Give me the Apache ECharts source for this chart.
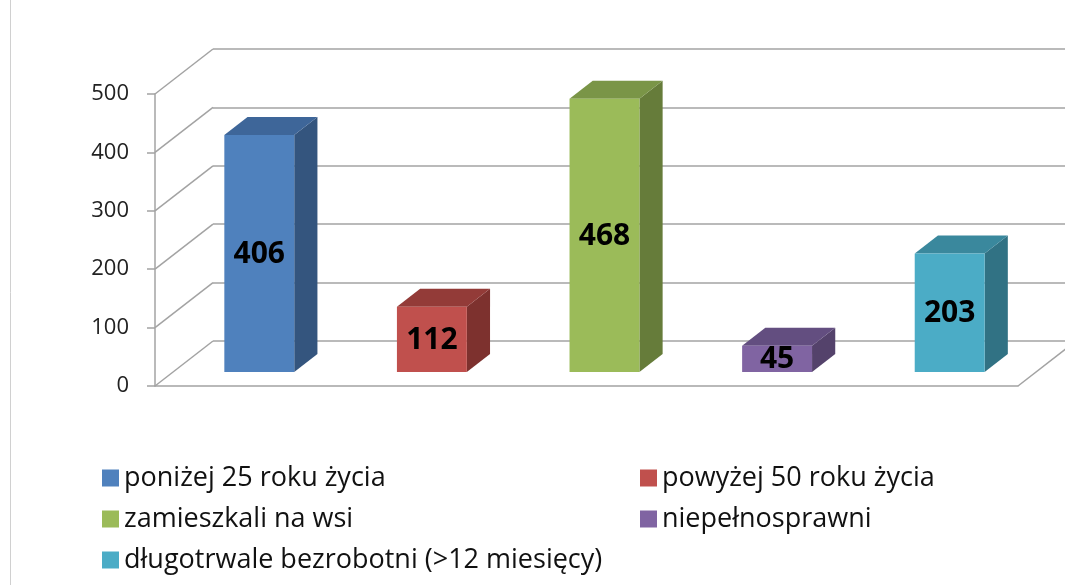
<!DOCTYPE html>
<html>
<head>
<meta charset="utf-8">
<script src="https://cdn.jsdelivr.net/npm/echarts@6/dist/echarts.min.js"></script>
<style>
html,body{margin:0;padding:0;background:#fff}
#main{width:1065px;height:585px}
</style>
</head>
<body>
<div id="main"></div>
<script>
// dane
var categories = ['poniżej 25 roku życia', 'powyżej 50 roku życia', 'zamieszkali na wsi', 'niepełnosprawni', 'długotrwale bezrobotni (>12 miesięcy)'];
var values = [406, 112, 468, 45, 203];
var yTicks = [0, 100, 200, 300, 400, 500];

var frontColors = ['#4F81BD', '#C0504D', '#9BBB59', '#8064A2', '#4BACC6'];
var sideColors = ['#34557E', '#7D312E', '#667C3A', '#54426B', '#317284'];
var topColors = ['#3E6699', '#933B38', '#7A9547', '#634E80', '#3A889D'];

// "3D" - przesuniecie glebi
var DX = 58, DY = 45;
var BAR_FRONT = 0.31, BAR_BACK = 0.71, BAR_WIDTH = 0.405;
var gridLeft = 155, gridTop = 94, gridW = 863, gridH = 292;
var lineColor = '#a3a3a3';

var myChart = echarts.init(document.getElementById('main'));

function barRenderer(i) {
    return function (params, api) {
        var base = api.coord([api.value(0), 0]);
        var top = api.coord([api.value(0), api.value(1)]);
        var w = api.size([1, 0])[0] * BAR_WIDTH;
        var ox = DX * BAR_FRONT, oy = DY * BAR_FRONT;
        var dx = DX * (BAR_BACK - BAR_FRONT), dy = DY * (BAR_BACK - BAR_FRONT);
        var x0 = base[0] - w / 2 + ox, x1 = x0 + w;
        var yb = base[1] - oy, yt = top[1] - oy;
        return {
            type: 'group',
            children: [{
                type: 'polygon',
                shape: {points: [[x1, yb], [x1, yt], [x1 + dx, yt - dy], [x1 + dx, yb - dy]]},
                style: {fill: sideColors[i]}
            }, {
                type: 'polygon',
                shape: {points: [[x0, yt], [x1, yt], [x1 + dx, yt - dy], [x0 + dx, yt - dy]]},
                style: {fill: topColors[i]}
            }, {
                type: 'rect',
                shape: {x: x0, y: yt, width: w, height: yb - yt},
                style: {fill: frontColors[i]}
            }, {
                type: 'text',
                x: x0 + w / 2,
                y: (yt + yb) / 2 + 1,
                style: {
                    text: String(api.value(1)),
                    fontFamily: 'Open Sans',
                    fontWeight: 'bold',
                    fontSize: 30,
                    fill: '#000',
                    align: 'center',
                    verticalAlign: 'middle'
                }
            }]
        };
    };
}

// sciana lewa + prawa krawedz podlogi
function wallRenderer(params, api) {
    var cs = params.coordSys;
    var y = api.coord([0, api.value(1)])[1];
    var kids = [{
        type: 'line',
        shape: {x1: cs.x, y1: y, x2: cs.x + DX, y2: y - DY},
        style: {stroke: lineColor, lineWidth: 1.5}
    }];
    if (api.value(1) === 0) {
        kids.push({
            type: 'line',
            shape: {x1: cs.x + cs.width, y1: y, x2: cs.x + cs.width + DX, y2: y - DY},
            style: {stroke: lineColor, lineWidth: 1.5}
        });
    }
    return {type: 'group', children: kids};
}

var series = [{
    name: 'walls',
    type: 'custom',
    xAxisIndex: 0,
    yAxisIndex: 0,
    silent: true,
    z: 1,
    renderItem: wallRenderer,
    data: yTicks.map(function (v) { return [0, v]; })
}];
categories.forEach(function (name, i) {
    series.push({
        name: name,
        type: 'custom',
        xAxisIndex: 0,
        yAxisIndex: 0,
        color: frontColors[i],
        z: 5,
        renderItem: barRenderer(i),
        data: [[i, values[i]]]
    });
});

var legendText = {fontFamily: 'Open Sans', fontSize: 27, color: '#111', lineHeight: 30};

option = {
    backgroundColor: '#fff',
    animation: false,
    graphic: [{
        type: 'line',
        shape: {x1: 10.5, y1: 0, x2: 10.5, y2: 585},
        style: {stroke: '#d0d0d0', lineWidth: 1}
    }],
    grid: [
        {left: gridLeft, top: gridTop, width: gridW, height: gridH},
        {left: gridLeft + DX, top: gridTop - DY, width: gridW, height: gridH}
    ],
    xAxis: [{
        type: 'category',
        gridIndex: 0,
        data: categories,
        axisLine: {lineStyle: {color: lineColor, width: 1.5}},
        axisTick: {show: false},
        axisLabel: {show: false}
    }, {
        type: 'category',
        gridIndex: 1,
        data: categories,
        show: false
    }],
    yAxis: [{
        type: 'value',
        gridIndex: 0,
        min: 0,
        max: 500,
        interval: 100,
        axisLine: {show: true, lineStyle: {color: lineColor, width: 1.5}},
        axisTick: {show: true, length: 8, lineStyle: {color: lineColor, width: 1.5}},
        axisLabel: {
            margin: 26,
            fontFamily: 'Open Sans',
            fontSize: 22,
            color: '#222',
            padding: [4, 0, 0, 0],
            formatter: function (v) { return yTicks.indexOf(v) >= 0 ? String(v) : ''; }
        },
        splitLine: {show: false}
    }, {
        type: 'value',
        gridIndex: 1,
        min: 0,
        max: 500,
        interval: 100,
        axisLine: {show: false},
        axisTick: {show: false},
        axisLabel: {show: false},
        splitLine: {show: true, lineStyle: {color: lineColor, width: 1.5}}
    }],
    legend: [{
        data: [categories[0], categories[2], categories[4]],
        orient: 'vertical',
        left: 97,
        top: 458,
        icon: 'rect',
        itemWidth: 17,
        itemHeight: 17,
        itemGap: 11,
        selectedMode: false,
        textStyle: legendText
    }, {
        data: [categories[1], categories[3]],
        orient: 'vertical',
        left: 635,
        top: 458,
        icon: 'rect',
        itemWidth: 17,
        itemHeight: 17,
        itemGap: 11,
        selectedMode: false,
        textStyle: legendText
    }],
    series: series
};

myChart.setOption(option);
</script>
</body>
</html>
